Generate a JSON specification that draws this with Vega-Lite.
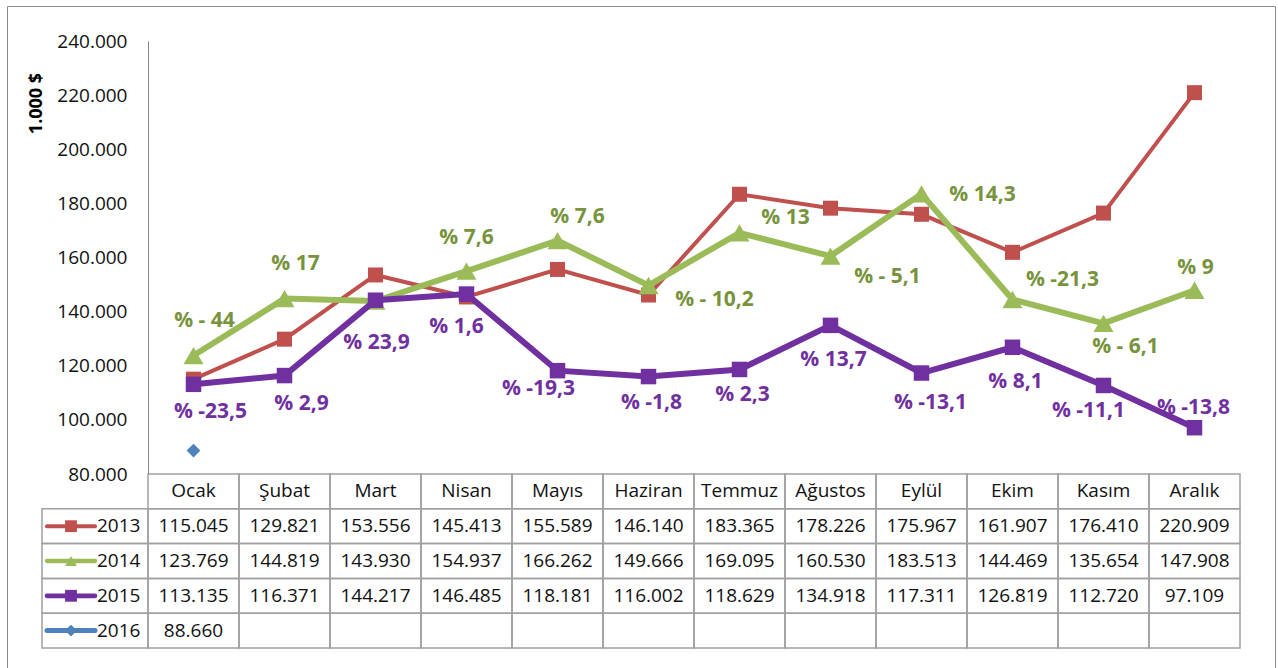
{
  "$schema": "https://vega.github.io/schema/vega-lite/v6.json",
  "width": 1268,
  "height": 662,
  "autosize": {"type": "none"},
  "padding": {"left": 7, "top": 6, "right": 3, "bottom": 0},
  "background": "white",
  "config": {
    "view": {"stroke": "#8c8c8c", "strokeWidth": 1},
    "locale": {"number": {"decimal": ",", "thousands": ".", "grouping": [3], "currency": ["", "$"]}},
    "style": {
      "lbl": {"font": "Open Sans", "fontSize": 21, "fontWeight": "bold", "align": "center", "baseline": "middle"},
      "tbl": {"font": "Open Sans", "fontSize": 19, "align": "center", "baseline": "middle", "color": "#111111"}
    }
  },
  "datasets": {
    "vals": [
      {"month": "Ocak", "year": "2013", "value": 115045},
      {"month": "Şubat", "year": "2013", "value": 129821},
      {"month": "Mart", "year": "2013", "value": 153556},
      {"month": "Nisan", "year": "2013", "value": 145413},
      {"month": "Mayıs", "year": "2013", "value": 155589},
      {"month": "Haziran", "year": "2013", "value": 146140},
      {"month": "Temmuz", "year": "2013", "value": 183365},
      {"month": "Ağustos", "year": "2013", "value": 178226},
      {"month": "Eylül", "year": "2013", "value": 175967},
      {"month": "Ekim", "year": "2013", "value": 161907},
      {"month": "Kasım", "year": "2013", "value": 176410},
      {"month": "Aralık", "year": "2013", "value": 220909},
      {"month": "Ocak", "year": "2014", "value": 123769, "label": "% - 44"},
      {"month": "Şubat", "year": "2014", "value": 144819, "label": "% 17"},
      {"month": "Mart", "year": "2014", "value": 143930},
      {"month": "Nisan", "year": "2014", "value": 154937, "label": "% 7,6"},
      {"month": "Mayıs", "year": "2014", "value": 166262, "label": "% 7,6"},
      {"month": "Haziran", "year": "2014", "value": 149666, "label": "% - 10,2"},
      {"month": "Temmuz", "year": "2014", "value": 169095, "label": "% 13"},
      {"month": "Ağustos", "year": "2014", "value": 160530, "label": "% - 5,1"},
      {"month": "Eylül", "year": "2014", "value": 183513, "label": "% 14,3"},
      {"month": "Ekim", "year": "2014", "value": 144469, "label": "% -21,3"},
      {"month": "Kasım", "year": "2014", "value": 135654, "label": "% - 6,1"},
      {"month": "Aralık", "year": "2014", "value": 147908, "label": "% 9"},
      {"month": "Ocak", "year": "2015", "value": 113135, "label": "% -23,5"},
      {"month": "Şubat", "year": "2015", "value": 116371, "label": "% 2,9"},
      {"month": "Mart", "year": "2015", "value": 144217, "label": "% 23,9"},
      {"month": "Nisan", "year": "2015", "value": 146485, "label": "% 1,6"},
      {"month": "Mayıs", "year": "2015", "value": 118181, "label": "% -19,3"},
      {"month": "Haziran", "year": "2015", "value": 116002, "label": "% -1,8"},
      {"month": "Temmuz", "year": "2015", "value": 118629, "label": "% 2,3"},
      {"month": "Ağustos", "year": "2015", "value": 134918, "label": "% 13,7"},
      {"month": "Eylül", "year": "2015", "value": 117311, "label": "% -13,1"},
      {"month": "Ekim", "year": "2015", "value": 126819, "label": "% 8,1"},
      {"month": "Kasım", "year": "2015", "value": 112720, "label": "% -11,1"},
      {"month": "Aralık", "year": "2015", "value": 97109, "label": "% -13,8"},
      {"month": "Ocak", "year": "2016", "value": 88660},
      {"month": "Şubat", "year": "2016", "value": null},
      {"month": "Mart", "year": "2016", "value": null},
      {"month": "Nisan", "year": "2016", "value": null},
      {"month": "Mayıs", "year": "2016", "value": null},
      {"month": "Haziran", "year": "2016", "value": null},
      {"month": "Temmuz", "year": "2016", "value": null},
      {"month": "Ağustos", "year": "2016", "value": null},
      {"month": "Eylül", "year": "2016", "value": null},
      {"month": "Ekim", "year": "2016", "value": null},
      {"month": "Kasım", "year": "2016", "value": null},
      {"month": "Aralık", "year": "2016", "value": null}
    ],
    "months": [
      {"month": "Ocak"}, {"month": "Şubat"}, {"month": "Mart"}, {"month": "Nisan"},
      {"month": "Mayıs"}, {"month": "Haziran"}, {"month": "Temmuz"}, {"month": "Ağustos"},
      {"month": "Eylül"}, {"month": "Ekim"}, {"month": "Kasım"}, {"month": "Aralık"}
    ],
    "years": [{"year": "2013"}, {"year": "2014"}, {"year": "2015"}, {"year": "2016"}]
  },
  "layer": [
    {
      "data": {"name": "vals"},
      "encoding": {
        "x": {"field": "month", "type": "nominal", "bandPosition": 0.5,
              "scale": {"type": "band", "domain": ["Ocak","Şubat","Mart","Nisan","Mayıs","Haziran","Temmuz","Ağustos","Eylül","Ekim","Kasım","Aralık"], "range": [141, 1233], "paddingInner": 0, "paddingOuter": 0},
              "axis": null},
        "y": {"field": "value", "type": "quantitative",
              "scale": {"domain": [80000, 240000], "range": [468, 35], "nice": false, "zero": false},
              "axis": {"values": [80000, 100000, 120000, 140000, 160000, 180000, 200000, 220000, 240000],
                       "format": ",d", "offset": -141, "grid": false, "ticks": false, "tickSize": 0,
                       "labelPadding": 21, "labelFlush": false, "labelFont": "Open Sans", "labelFontSize": 19, "labelColor": "#111111",
                       "domainColor": "#868686", "domainWidth": 1,
                       "title": "1.000 $", "titleFont": "Open Sans", "titleFontSize": 18, "titleFontWeight": "bold", "titleColor": "#000000",
                       "titleX": -112, "titleY": 97, "titleAngle": -90, "titleAlign": "center", "titleBaseline": "middle"}}
      },
      "layer": [
        {"transform": [{"filter": "datum.year == '2013'"}], "mark": {"type": "line", "color": "#C0504D", "strokeWidth": 4}, "encoding": {"order": {"value": null}}},
        {"transform": [{"filter": "datum.year == '2013'"}], "mark": {"type": "point", "shape": "square", "filled": true, "size": 225, "color": "#C0504D", "opacity": 1}},
        {"transform": [{"filter": "datum.year == '2014'"}], "mark": {"type": "line", "color": "#9BBB59", "strokeWidth": 6}, "encoding": {"order": {"value": null}}},
        {"transform": [{"filter": "datum.year == '2014'"}], "mark": {"type": "point", "shape": "triangle-up", "filled": true, "size": 400, "color": "#9BBB59", "opacity": 1}},
        {"transform": [{"filter": "datum.year == '2015'"}], "mark": {"type": "line", "color": "#7030A0", "strokeWidth": 6}, "encoding": {"order": {"value": null}}},
        {"transform": [{"filter": "datum.year == '2015'"}], "mark": {"type": "point", "shape": "square", "filled": true, "size": 240, "color": "#7030A0", "opacity": 1}},
        {"transform": [{"filter": "datum.year == '2016' && isValid(datum.value)"}], "mark": {"type": "point", "shape": "diamond", "filled": true, "size": 190, "color": "#4F81BD", "opacity": 1}},

        {"transform": [{"filter": {"and": [{"field": "year", "equal": "2014"}, {"field": "month", "oneOf": ["Ocak", "Şubat"]}]}}], "mark": {"type": "text", "style": "lbl", "color": "#77933C", "dx": 11, "dy": -35}, "encoding": {"text": {"field": "label"}}},
        {"transform": [{"filter": {"and": [{"field": "year", "equal": "2014"}, {"field": "month", "oneOf": ["Nisan"]}]}}], "mark": {"type": "text", "style": "lbl", "color": "#77933C", "dx": 0, "dy": -33}, "encoding": {"text": {"field": "label"}}},
        {"transform": [{"filter": {"and": [{"field": "year", "equal": "2014"}, {"field": "month", "oneOf": ["Mayıs"]}]}}], "mark": {"type": "text", "style": "lbl", "color": "#77933C", "dx": 20, "dy": -24}, "encoding": {"text": {"field": "label"}}},
        {"transform": [{"filter": {"and": [{"field": "year", "equal": "2014"}, {"field": "month", "oneOf": ["Haziran"]}]}}], "mark": {"type": "text", "style": "lbl", "color": "#77933C", "dx": 66, "dy": 15}, "encoding": {"text": {"field": "label"}}},
        {"transform": [{"filter": {"and": [{"field": "year", "equal": "2014"}, {"field": "month", "oneOf": ["Temmuz"]}]}}], "mark": {"type": "text", "style": "lbl", "color": "#77933C", "dx": 46, "dy": -15}, "encoding": {"text": {"field": "label"}}},
        {"transform": [{"filter": {"and": [{"field": "year", "equal": "2014"}, {"field": "month", "oneOf": ["Ağustos"]}]}}], "mark": {"type": "text", "style": "lbl", "color": "#77933C", "dx": 57, "dy": 21}, "encoding": {"text": {"field": "label"}}},
        {"transform": [{"filter": {"and": [{"field": "year", "equal": "2014"}, {"field": "month", "oneOf": ["Eylül"]}]}}], "mark": {"type": "text", "style": "lbl", "color": "#77933C", "dx": 61, "dy": 1}, "encoding": {"text": {"field": "label"}}},
        {"transform": [{"filter": {"and": [{"field": "year", "equal": "2014"}, {"field": "month", "oneOf": ["Ekim"]}]}}], "mark": {"type": "text", "style": "lbl", "color": "#77933C", "dx": 50, "dy": -20}, "encoding": {"text": {"field": "label"}}},
        {"transform": [{"filter": {"and": [{"field": "year", "equal": "2014"}, {"field": "month", "oneOf": ["Kasım"]}]}}], "mark": {"type": "text", "style": "lbl", "color": "#77933C", "dx": 22, "dy": 24}, "encoding": {"text": {"field": "label"}}},
        {"transform": [{"filter": {"and": [{"field": "year", "equal": "2014"}, {"field": "month", "oneOf": ["Aralık"]}]}}], "mark": {"type": "text", "style": "lbl", "color": "#77933C", "dx": 1, "dy": -22}, "encoding": {"text": {"field": "label"}}},

        {"transform": [{"filter": {"and": [{"field": "year", "equal": "2015"}, {"field": "month", "oneOf": ["Ocak", "Şubat"]}]}}], "mark": {"type": "text", "style": "lbl", "color": "#7030A0", "dx": 17, "dy": 28}, "encoding": {"text": {"field": "label"}}},
        {"transform": [{"filter": {"and": [{"field": "year", "equal": "2015"}, {"field": "month", "oneOf": ["Mart"]}]}}], "mark": {"type": "text", "style": "lbl", "color": "#7030A0", "dx": 1, "dy": 43}, "encoding": {"text": {"field": "label"}}},
        {"transform": [{"filter": {"and": [{"field": "year", "equal": "2015"}, {"field": "month", "oneOf": ["Nisan"]}]}}], "mark": {"type": "text", "style": "lbl", "color": "#7030A0", "dx": -10, "dy": 33}, "encoding": {"text": {"field": "label"}}},
        {"transform": [{"filter": {"and": [{"field": "year", "equal": "2015"}, {"field": "month", "oneOf": ["Mayıs"]}]}}], "mark": {"type": "text", "style": "lbl", "color": "#7030A0", "dx": -19, "dy": 18}, "encoding": {"text": {"field": "label"}}},
        {"transform": [{"filter": {"and": [{"field": "year", "equal": "2015"}, {"field": "month", "oneOf": ["Haziran", "Temmuz"]}]}}], "mark": {"type": "text", "style": "lbl", "color": "#7030A0", "dx": 3, "dy": 26}, "encoding": {"text": {"field": "label"}}},
        {"transform": [{"filter": {"and": [{"field": "year", "equal": "2015"}, {"field": "month", "oneOf": ["Ağustos", "Ekim"]}]}}], "mark": {"type": "text", "style": "lbl", "color": "#7030A0", "dx": 3, "dy": 35}, "encoding": {"text": {"field": "label"}}},
        {"transform": [{"filter": {"and": [{"field": "year", "equal": "2015"}, {"field": "month", "oneOf": ["Eylül"]}]}}], "mark": {"type": "text", "style": "lbl", "color": "#7030A0", "dx": 9, "dy": 30}, "encoding": {"text": {"field": "label"}}},
        {"transform": [{"filter": {"and": [{"field": "year", "equal": "2015"}, {"field": "month", "oneOf": ["Kasım"]}]}}], "mark": {"type": "text", "style": "lbl", "color": "#7030A0", "dx": -15, "dy": 26}, "encoding": {"text": {"field": "label"}}},
        {"transform": [{"filter": {"and": [{"field": "year", "equal": "2015"}, {"field": "month", "oneOf": ["Aralık"]}]}}], "mark": {"type": "text", "style": "lbl", "color": "#7030A0", "dx": -1, "dy": -20}, "encoding": {"text": {"field": "label"}}}
      ]
    },
    {
      "encoding": {
        "x": {"field": "month", "type": "nominal",
              "scale": {"type": "band", "domain": ["Ocak","Şubat","Mart","Nisan","Mayıs","Haziran","Temmuz","Ağustos","Eylül","Ekim","Kasım","Aralık"], "range": [141, 1233], "paddingInner": 0, "paddingOuter": 0},
              "axis": null}
      },
      "layer": [
        {"data": {"name": "vals"}, "mark": {"type": "rect", "fillOpacity": 0, "stroke": "#a0a0a0", "strokeWidth": 1.5},
         "encoding": {"y": {"field": "year", "type": "nominal", "scale": {"type": "band", "domain": ["ay", "2013", "2014", "2015", "2016"], "range": [468, 642], "paddingInner": 0, "paddingOuter": 0}, "axis": null}}},
        {"data": {"name": "months"}, "mark": {"type": "rect", "fillOpacity": 0, "stroke": "#a0a0a0", "strokeWidth": 1.5},
         "encoding": {"y": {"datum": "ay", "type": "nominal"}}},
        {"data": {"name": "vals"}, "transform": [{"filter": "isValid(datum.value)"}], "mark": {"type": "text", "style": "tbl"},
         "encoding": {"y": {"field": "year", "type": "nominal"}, "text": {"field": "value", "type": "quantitative", "format": ",d"}}},
        {"data": {"name": "months"}, "mark": {"type": "text", "style": "tbl"},
         "encoding": {"y": {"datum": "ay", "type": "nominal"}, "text": {"field": "month"}}}
      ]
    },
    {
      "data": {"name": "years"},
      "encoding": {
        "x": {"datum": "legend", "type": "nominal",
              "scale": {"type": "band", "domain": ["legend"], "range": [35, 141], "paddingInner": 0, "paddingOuter": 0},
              "axis": null},
        "y": {"field": "year", "type": "nominal",
              "scale": {"type": "band", "domain": ["ay", "2013", "2014", "2015", "2016"], "range": [468, 642], "paddingInner": 0, "paddingOuter": 0},
              "axis": null},
        "color": {"field": "year", "type": "nominal", "scale": {"domain": ["2013", "2014", "2015", "2016"], "range": ["#C0504D", "#9BBB59", "#7030A0", "#4F81BD"]}, "legend": null}
      },
      "layer": [
        {"mark": {"type": "rect", "fillOpacity": 0, "stroke": "#a0a0a0", "strokeWidth": 1.5}},
        {"mark": {"type": "point", "shape": "stroke", "filled": false, "size": 2304, "strokeCap": "round", "xOffset": -24, "opacity": 1},
         "encoding": {"strokeWidth": {"field": "year", "type": "nominal", "scale": {"domain": ["2013", "2014", "2015", "2016"], "range": [4, 5, 6, 4]}, "legend": null}}},
        {"mark": {"type": "point", "filled": true, "size": 140, "xOffset": -24, "opacity": 1, "strokeWidth": 0},
         "encoding": {"shape": {"field": "year", "type": "nominal", "scale": {"domain": ["2013", "2014", "2015", "2016"], "range": ["square", "triangle-up", "square", "diamond"]}, "legend": null}}},
        {"mark": {"type": "text", "style": "tbl", "align": "left", "dx": 2, "color": "#111111"}, "encoding": {"text": {"field": "year"}, "color": {"value": "#111111"}}}
      ]
    }
  ],
  "resolve": {"scale": {"x": "independent", "y": "independent"}}
}
